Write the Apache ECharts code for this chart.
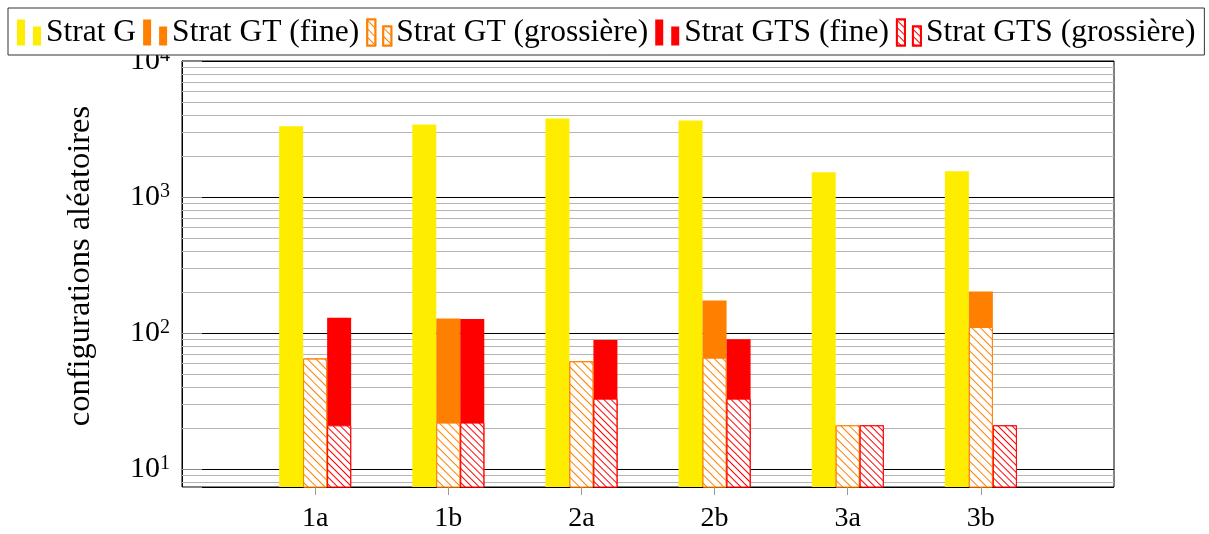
<!DOCTYPE html>
<html>
<head>
<meta charset="utf-8">
<script src="https://cdn.jsdelivr.net/npm/echarts@6/dist/echarts.min.js"></script>
<style>
  html, body { margin: 0; padding: 0; background: #fff; }
  #chart { width: 1209px; height: 534px; }
</style>
</head>
<body>
<div id="chart"></div>
<script>
// Benchmark cases
const categories = ['1a', '1b', '2a', '2b', '3a', '3b'];

// Number of random configurations per strategy (log scale)
const stratG    = [3320, 3420, 3780, 3650, 1520, 1545];
const gtFine    = [65, 128, 62, 174, 21, 202];
const gtCoarse  = [65, 22, 62, 66, 21, 111];
const gtsFine   = [130, 127, 89, 90, 21, 21];
const gtsCoarse = [21, 22, 33, 33, 21, 21];

// Decade exponents labelled on the value axis
const decadeExponents = [1, 2, 3, 4];

const seriesNames = [
  'Strat G', 'Strat GT (fine)', 'Strat GT (grossière)',
  'Strat GTS (fine)', 'Strat GTS (grossière)'
];

const FONT = 'Liberation Serif';
const YELLOW = '#ffed00';
const ORANGE = '#ff8000';
const RED = '#ff0000';
const Y_MIN = 7.4;
const Y_MAX = 10000;

// One empty slot on each side of the cases
const axisCats = [''].concat(categories, ['']);
const pad = arr => ['-'].concat(arr, ['-']);

// Minor grid values 2..9 x 10^k inside the axis range
const minorValues = [];
for (let k = 0; k <= 3; k++) {
  for (let m = 2; m <= 9; m++) {
    const v = m * Math.pow(10, k);
    if (v > Y_MIN && v < Y_MAX) minorValues.push(v);
  }
}

// Diagonal hatching running from top-left to bottom-right
function hatch(color, gap) {
  return {
    symbol: 'rect',
    symbolSize: 1,
    color: color,
    backgroundColor: '#ffffff',
    dashArrayX: [1, 0],
    dashArrayY: [1, gap],
    rotation: Math.PI / 4
  };
}

const legendIcon = 'path://M0,0H8V26H0Z M16,7H24V26H16Z';

const chart = echarts.init(document.getElementById('chart'));

const xAxisBase = {
  type: 'category',
  data: axisCats,
  boundaryGap: false
};

chart.setOption({
  animation: false,
  textStyle: { fontFamily: FONT },
  grid: {
    left: 182, right: 95, top: 61, bottom: 47,
    show: true, borderColor: '#000', borderWidth: 1, backgroundColor: 'transparent'
  },
  legend: {
    left: 8, top: 8,
    width: 1300,
    padding: [4, 9, 2, 9],
    itemWidth: 24, itemHeight: 26, itemGap: 7,
    icon: legendIcon,
    backgroundColor: '#ffffff',
    borderColor: '#333', borderWidth: 1,
    z: 10,
    textStyle: {
      fontSize: 31.5, lineHeight: 32, fontFamily: FONT, color: '#000',
      padding: [9, 0, 0, 0]
    },
    data: seriesNames.map(n => ({ name: n }))
  },
  xAxis: [
    Object.assign({}, xAxisBase, {
      axisLine: { show: false },
      axisTick: {
        show: true, inside: false, length: 8,
        lineStyle: { color: '#999' },
        interval: (i) => i > 0 && i < axisCats.length - 1
      },
      axisLabel: { interval: 0, fontSize: 28, fontFamily: FONT, color: '#000', margin: 18 },
      splitLine: { show: false }
    }),
    Object.assign({}, xAxisBase, { show: false })
  ],
  yAxis: {
    type: 'log',
    logBase: 10,
    min: Y_MIN,
    max: Y_MAX,
    splitNumber: 3,
    name: 'configurations aléatoires',
    nameLocation: 'middle',
    nameGap: 85,
    nameTextStyle: { fontSize: 32.5, fontFamily: FONT, color: '#000', padding: [0, 0, 0, 16] },
    axisLine: { show: true, lineStyle: { color: '#000' } },
    axisTick: { show: true, inside: true, length: 20, lineStyle: { color: '#888' } },
    splitLine: { show: true, lineStyle: { color: '#000', width: 1 } },
    axisLabel: {
      margin: 12,
      color: '#000',
      formatter: function (v) {
        const e = Math.round(Math.log10(v));
        if (Math.abs(Math.log10(v) - e) > 1e-6 || decadeExponents.indexOf(e) < 0) return '';
        return '{b|10}{s|' + e + '}';
      },
      rich: {
        b: { fontSize: 30, fontFamily: FONT, color: '#000' },
        s: { fontSize: 20, fontFamily: FONT, color: '#000', verticalAlign: 'top' }
      }
    }
  },
  series: [
    {
      name: 'Strat G', type: 'bar', xAxisIndex: 0, barWidth: 24,
      data: pad(stratG),
      itemStyle: { color: YELLOW },
      markLine: {
        silent: true, symbol: 'none', z: 1,
        label: { show: false },
        lineStyle: { color: '#b5b5b5', width: 1, type: 'solid' },
        data: minorValues.map(v => ({ yAxis: v }))
      }
    },
    {
      name: 'Strat GT (fine)', type: 'bar', xAxisIndex: 0, barWidth: 24,
      data: pad(gtFine),
      itemStyle: { color: ORANGE }
    },
    {
      name: 'Strat GTS (fine)', type: 'bar', xAxisIndex: 0, barWidth: 24, barGap: '0%',
      data: pad(gtsFine),
      itemStyle: { color: RED }
    },
    {
      // keeps the coarse bars aligned with the fine ones
      name: '_slot', type: 'bar', xAxisIndex: 1, barWidth: 24,
      data: pad(categories.map(() => '-'))
    },
    {
      name: 'Strat GT (grossière)', type: 'bar', xAxisIndex: 1, barWidth: 24,
      data: pad(gtCoarse),
      itemStyle: { color: '#ffffff', borderColor: ORANGE, borderWidth: 1, decal: hatch(ORANGE, 5) }
    },
    {
      name: 'Strat GTS (grossière)', type: 'bar', xAxisIndex: 1, barWidth: 24, barGap: '0%',
      data: pad(gtsCoarse),
      itemStyle: { color: '#ffffff', borderColor: RED, borderWidth: 1, decal: hatch(RED, 3.5) }
    }
  ]
});
</script>
</body>
</html>
